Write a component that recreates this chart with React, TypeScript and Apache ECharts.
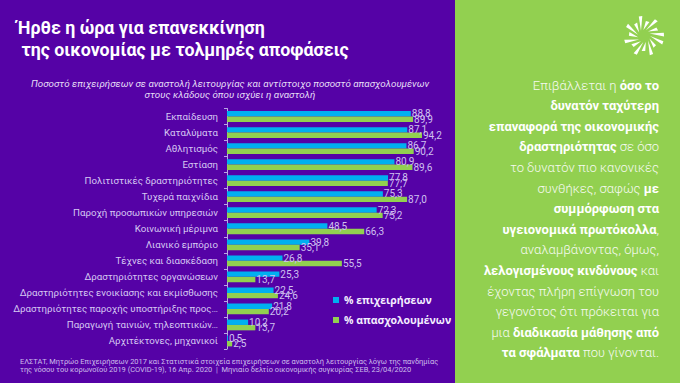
import React, { useEffect, useRef } from 'react';
import * as echarts from 'echarts';

// Sectors under suspension of operations (top to bottom)
const categories = [
  'Εκπαίδευση',
  'Καταλύματα',
  'Αθλητισμός',
  'Εστίαση',
  'Πολιτιστικές δραστηριότητες',
  'Τυχερά παιχνίδια',
  'Παροχή προσωπικών υπηρεσιών',
  'Κοινωνική μέριμνα',
  'Λιανικό εμπόριο',
  'Τέχνες και διασκέδαση',
  'Δραστηριότητες οργανώσεων',
  'Δραστηριότητες ενοικίασης και εκμίσθωσης',
  'Δραστηριότητες παροχής υποστήριξης προς…',
  'Παραγωγή ταινιών, τηλεοπτικών…',
  'Αρχιτέκτονες, μηχανικοί',
];

// % of businesses suspended
const firmsShare = [88.8, 87.1, 86.7, 80.9, 77.8, 75.3, 72.3, 48.5, 39.8, 26.8, 25.3, 22.5, 21.8, 10.2, 0.5];
// % of employees in the suspended businesses
const employeesShare = [89.9, 94.2, 90.2, 89.6, 77.7, 87.0, 75.2, 66.3, 35.1, 55.5, 13.7, 24.6, 20.2, 13.7, 2.5];

const seriesNames = ['% επιχειρήσεων', '% απασχολουμένων'];

const titleLines = ['Ήρθε η ώρα για επανεκκίνηση', ' της οικονομίας με τολμηρές αποφάσεις'];
const subtitleLines = [
  'Ποσοστό επιχειρήσεων σε αναστολή λειτουργίας και αντίστοιχο ποσοστό απασχολουμένων',
  'στους κλάδους όπου ισχύει η αναστολή',
];
const sourceLines = [
  'ΕΛΣΤΑΤ, Μητρώο Επιχειρήσεων 2017 και Στατιστικά στοιχεία επιχειρήσεων σε αναστολή λειτουργίας λόγω της πανδημίας',
  'της νόσου του κορωνοϊού 2019 (COVID-19), 16 Απρ. 2020  |  Μηνιαίο δελτίο οικονομικής συγκυρίας ΣΕΒ, 23/04/2020',
];

// Side-panel message: each line is a list of [text, bold] fragments
const messageLines: [string, boolean][][] = [
  [['Επιβάλλεται η ', false], ['όσο το', true]],
  [['δυνατόν ταχύτερη', true]],
  [['επαναφορά της οικονομικής', true]],
  [['δραστηριότητας', true], [' σε όσο', false]],
  [['το δυνατόν πιο κανονικές', false]],
  [['συνθήκες, σαφώς ', false], ['με', true]],
  [['συμμόρφωση στα', true]],
  [['υγειονομικά πρωτόκολλα', true], [',', false]],
  [['αναλαμβάνοντας, όμως,', false]],
  [['λελογισμένους κινδύνους', true], [' και', false]],
  [['έχοντας πλήρη επίγνωση του', false]],
  [['γεγονότος ότι πρόκειται για', false]],
  [['μια ', false], ['διαδικασία μάθησης από', true]],
  [['τα σφάλματα', true], [' που γίνονται.', false]],
];

const PURPLE = '#5502A6';
const GREEN_PANEL = '#92D050';
const CYAN = '#00B0F0';
const GREEN = '#92D050';
const LAVENDER = '#D6C8F2';
const FONT = 'Roboto, "Noto Sans", sans-serif';

const fmt = (v: number) => v.toFixed(1).replace('.', ',');

function logoRays() {
  // stylised sunburst emblem made of tapered, slightly swirled rays
  const cx = 644;
  const cy = 36;
  const rays: any[] = [];
  const n = 15;
  for (let i = 0; i < n; i++) {
    const a = (i / n) * Math.PI * 2;
    const r1 = 6;
    const r2 = i % 2 === 0 ? 20 : 15;
    const a2 = a + 0.35;
    const ix = cx + r1 * Math.cos(a);
    const iy = cy + r1 * Math.sin(a);
    const ox = cx + r2 * Math.cos(a2);
    const oy = cy + r2 * Math.sin(a2);
    const px = -Math.sin(a2) * 1.8;
    const py = Math.cos(a2) * 1.8;
    rays.push({
      type: 'polygon',
      shape: {
        points: [
          [ix, iy],
          [ox + px, oy + py],
          [ox - px, oy - py],
        ],
      },
      style: { fill: '#ffffff' },
      silent: true,
    });
  }
  return rays;
}

export default function App() {
  const ref = useRef<HTMLDivElement>(null);

  useEffect(() => {
    if (!ref.current) return;
    const chart = echarts.init(ref.current, undefined, { renderer: 'svg' });

    const graphics: any[] = [
      { type: 'rect', shape: { x: 0, y: 0, width: 455, height: 383 }, style: { fill: PURPLE }, z: -10, silent: true },
      { type: 'rect', shape: { x: 455, y: 0, width: 225, height: 383 }, style: { fill: GREEN_PANEL }, z: -10, silent: true },
      ...titleLines.map((t, i) => ({
        type: 'text',
        x: 17,
        y: 27.5 + i * 21.5,
        style: {
          text: t,
          fill: '#ffffff',
          font: `bold 17.8px ${FONT}`,
          verticalAlign: 'middle',
          whiteSpace: 'pre',
        },
        silent: true,
      })),
      ...subtitleLines.map((t, i) => ({
        type: 'text',
        x: 230,
        y: 83 + i * 11.5,
        style: {
          text: t,
          fill: '#E6DEF6',
          font: `italic 9.8px ${FONT}`,
          align: 'center',
          verticalAlign: 'middle',
        },
        silent: true,
      })),
      ...sourceLines.map((t, i) => ({
        type: 'text',
        x: 20,
        y: 361 + i * 8.6,
        style: {
          text: t,
          fill: '#CDBDEB',
          font: `7.45px ${FONT}`,
          verticalAlign: 'middle',
        },
        silent: true,
      })),
      ...messageLines.map((segs, i) => ({
        type: 'text',
        x: 659,
        y: 85 + i * 20.6,
        style: {
          text: segs.map(([t, b]) => `{${b ? 'b' : 'l'}|${t}}`).join(''),
          align: 'right',
          verticalAlign: 'middle',
          rich: {
            l: { fill: '#F6FAF0', fontFamily: FONT, fontSize: 13, fontWeight: 300 },
            b: { fill: '#ffffff', fontFamily: FONT, fontSize: 13, fontWeight: 'bold' },
          },
        },
        silent: true,
      })),
      ...logoRays(),
    ];

    chart.setOption({
      animation: false,
      textStyle: { fontFamily: FONT },
      graphic: graphics,
      grid: { left: 227, top: 108.5, width: 207, height: 240.5, containLabel: false },
      legend: {
        left: 328,
        top: 289,
        orient: 'vertical',
        itemWidth: 6,
        itemHeight: 6,
        itemGap: 8,
        icon: 'rect',
        data: seriesNames,
        textStyle: {
          color: '#F4EEFF',
          fontWeight: 'bold',
          fontSize: 10.5,
          lineHeight: 12,
          fontFamily: `"Open Sans", ${FONT}`,
        },
      },
      xAxis: {
        type: 'value',
        min: 0,
        max: 100,
        show: false,
        splitLine: { show: false },
      },
      yAxis: {
        type: 'category',
        data: categories,
        inverse: true,
        axisLine: { show: true, lineStyle: { color: '#B9A6E4', width: 1 } },
        axisTick: { show: true, length: 3, lineStyle: { color: '#B9A6E4' } },
        axisLabel: {
          color: LAVENDER,
          fontSize: 9.7,
          margin: 9,
          fontFamily: FONT,
        },
      },
      series: [
        {
          name: seriesNames[0],
          type: 'bar',
          data: firmsShare,
          barWidth: 5.4,
          barGap: '0%',
          itemStyle: { color: CYAN },
          label: {
            show: true,
            position: 'right',
            distance: 1,
            color: '#CFC0F0',
            fontSize: 10,
            formatter: (p: any) => fmt(p.value),
          },
        },
        {
          name: seriesNames[1],
          type: 'bar',
          data: employeesShare,
          barWidth: 5.4,
          barGap: '0%',
          itemStyle: { color: GREEN },
          label: {
            show: true,
            position: 'right',
            distance: 1,
            color: '#CFC0F0',
            fontSize: 10,
            formatter: (p: any) => fmt(p.value),
          },
        },
      ],
    });

    return () => chart.dispose();
  }, []);

  return (
    <div
      ref={ref}
      style={{ position: 'absolute', left: 0, top: 0, width: 680, height: 383 }}
    />
  );
}
